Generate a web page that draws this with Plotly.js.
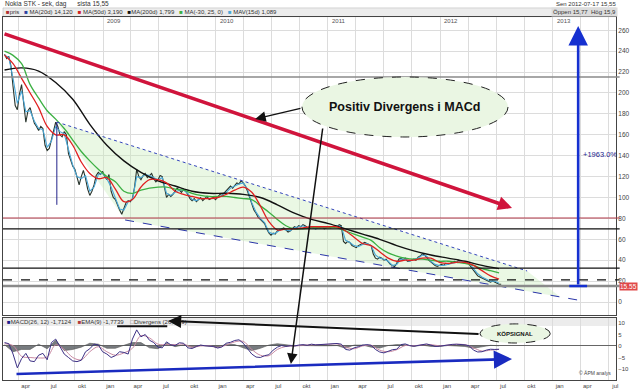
<!DOCTYPE html>
<html><head><meta charset="utf-8">
<script src="https://cdn.plot.ly/plotly-3.0.1.min.js"></script>
<style>html,body{margin:0;padding:0;background:#fff}#chart{width:640px;height:390px}</style>
</head><body><div id="chart"></div>
<script>
// ---------- DATA ----------
const seriesStart = '2008-02-15';
const stepDays = 6.93;
// weekly closing price (SEK)
const price = [
237,233,235,226,206,188,184,199,208,190,
172,183,186,178,171,168,164,168,166,150,
145,147,155,164,172,168,160,158,163,160,
142,136,130,127,118,112,120,126,118,108,
102,106,112,121,124,122,125,120,117,122,
106,100,98,92,88,84,90,95,97,96,
99,110,127,120,117,121,123,119,121,123,
118,115,117,121,120,108,100,103,101,103,
106,109,107,105,108,106,103,99,97,99,
96,98,100,97,99,101,98,99,100,98,
101,103,102,104,106,108,111,109,112,114,
113,116,114,111,106,100,93,88,85,81,
79,77,75,70,66,64,66,65,68,69,
70,71,69,67,68,70,72,71,73,72,
74,73,71,70,72,71,70,72,71,72,
70,71,72,71,72,73,72,74,73,58,
56,58,57,54,53,52,54,55,56,57,
56,55,54,46,42,41,43,42,40,41,
38,36,35,34,37,41,42,40,42,39,
39,40,41,40,43,44,46,45,43,40,
38,36,35,34,35,36,35,37,36,37,
38,39,38,40,39,38,37,38,36,33,
30,27,25,24,23,22,21,20,19,20,
19,18,17,17];
// short average (cyan), every 2 weeks
const maShort = [
236,234,214,190,202,182,183,173,166,165,
148,154,168,163,161,146,131,120,118,121,
106,110,122,123,118,110,99,89,88,96,
98,120,119,122,121,119,117,119,104,102,
105,107,107,104,98,97,99,99,99,99,
100,102,105,109,111,113,114,108,95,86,
80,76,67,65,67,70,69,68,71,72,
73,71,71,70,71,71,72,72,73,72,
59,57,54,53,55,56,54,45,42,41,
39,35,36,41,41,39,41,42,45,44,
39,36,35,35,36,37,38,39,38,37,
32,27,24,22,20,20,18];
// red average, every 4 weeks
const maRed = [
236,228,214,200,186,168,160,160,150,134,
123,118,119,108,96,98,110,117,117,114,
106,103,101,99,99,100,103,107,110,105,
92,77,69,70,70,71,72,72,72,72,
68,62,56,54,48,42,39,40,40,42,
42,38,37,38,38,35,30,25,22];
// green average, every 4 weeks
const maGreen = [
240,236,228,208,195,183,175,166,155,144,
135,127,120,115,106,104,107,109,110,110,
108,107,104,102,101,101,101,100,99,98,
92,86,79,73,70,70,71,71,71,71,
68,65,62,59,52,47,44,42,41,41,
40,39,39,38,37,35,32,30,28];
// black long average, every 8 weeks
const maBlack = [
222,224,221,210,194,170,150,135,124,116,
111,106,104,104,103,100,93,85,79,75,
70,65,60,54,49,45,42,39,35,32];
// MACD, every 2 weeks
const macd = [
1.5,1.0,-3.5,-9.5,-5.5,-3.2,-6.5,-6.8,-4,-3.2,
-6,1.5,3,0,-3.5,-5,-6.5,-6.8,-6.2,-2.5,
-1.2,0.8,0.5,-2.5,-3.5,-5,-4.2,-2.5,-2.8,-3.5,
3,7,4,5,2.5,1.5,-0.5,-0.8,1.8,0.5,
0.2,1.4,1.2,-0.8,-1.1,-0.2,0.4,0.1,0,-0.2,
-0.9,-0.4,1.2,1.6,2.4,2.7,1.2,-1,-3.5,-4.8,
-5,-4.2,-3.8,-1.8,-0.5,0.2,-0.2,0.1,0,0.4,
0.6,0.3,0.8,0.5,0.6,0.9,0.7,0.8,1.1,0.8,
-1.5,-1.8,-0.8,-0.3,0.4,0.6,0.3,-1.5,-2.6,-3,
-2.2,-1.6,-1.4,0.6,0.9,0.2,-0.1,0.3,0.8,0.9,
0.4,-0.2,-0.1,0.2,0.6,0.7,0.8,0.7,0.5,0.1,
-1.8,-2.6,-2.5,-1.8,-1.4,-1.5,-1.4];
// EMA signal, every 4 weeks
const signal = [
1.0,0.2,-4.5,-5,-5.2,-4.8,0.5,-1.5,-5,-6,
-2.5,-0.3,-2.5,-4,-3,-1,4.5,3.5,0.8,0.6,
0.6,0.8,-0.5,0,0.1,-0.6,0.4,1.8,2,-1.5,
-4,-4.2,-1.5,-0.2,0,0.4,0.5,0.6,0.7,0.9,
-0.5,-1.2,0,0.3,-1.8,-2.5,-1.6,0.2,0.1,0.5,
0.6,0.1,0.4,0.7,0.6,-0.8,-2.2,-1.8,-1.5];
// divergence histogram, every 4 weeks
const divergence = [
0.5,-2.5,-1.5,-1.5,0.8,-1.2,2.5,-2,-1.5,-0.5,
1.2,0.8,-1,-1,0.3,1.5,1.5,-0.8,-1.2,1.2,
-0.3,0.5,-0.6,0.3,-0.1,-0.5,0.8,0.6,-0.8,-2,
-1,0.4,1,0.4,0.1,0.2,0.3,0.1,0.1,0.2,
-1,0.4,0.4,-0.5,-0.9,0.2,0.6,0.5,-0.2,0.4,
-0.2,-0.2,0.2,0.1,-0.2,-1,-0.3,0.3,0.1];

const yearLabels = ['2009','2010','2011','2012','2013'];
const quarterNames = ['jan','apr','jul','okt'];
const priceTicks = [0,20,40,60,80,100,120,140,160,180,200,220,240,260];
const macdTicks = [-15,-10,-5,0,5,10];
const xRange = ['2008-02-10','2013-07-26'];
const levelValues = [215.3, 80.4, 69.9, 32.5, 21.1, 15.3];
const lastPriceLabel = '15.55';
// drawn trend lines (date, value)
const redTrendX = ['2008-02-10','2012-08-22'];  const redTrendY = [257, 90];
const upperChanX = ['2008-08-03','2012-10-10']; const upperChanY = [172.2, 29.7];
const lowerChanX = ['2009-03-13','2013-04-10']; const lowerChanY = [78.5, 1.0];
const wedgeX = ['2008-08-03','2012-10-10','2013-01-26','2009-03-13','2008-08-03'];
const wedgeY = [172.2, 29.7, 4.8, 78.5, 172.2];
const gainX = '2013-03-25'; const gainY = [15.3, 264];
const gainText = '+1963.0%';
const macdTrendX = ['2008-03-20','2012-08-22']; const macdTrendY = [-12.2, -5.65];
const noteMain = 'Positiv Divergens i MACd';
const noteBuy = 'KÖPSIGNAL';

// ---------- HELPERS ----------
const t0 = Date.parse(seriesStart + 'T00:00:00Z');
function dates(n, every) {
  const out = [];
  for (let i = 0; i < n; i++) {
    out.push(new Date(t0 + i * every * stepDays * 864e5).toISOString().slice(0, 19).replace('T', ' '));
  }
  return out;
}
const qVals = [], qText = [];
for (let y = 2008; y <= 2013; y++) for (let q = 0; q < 4; q++) {
  const m = q * 3 + 1;
  qVals.push(y + '-' + String(m).padStart(2, '0') + '-01');
  qText.push(quarterNames[q]);
}

const FONT = 'Liberation Sans, Arial, sans-serif';
const traces = [
  {x: wedgeX, y: wedgeY, type: 'scatter', mode: 'lines', fill: 'toself',
   fillcolor: 'rgba(200,236,185,0.38)', line: {width: 0}, hoverinfo: 'skip'},
  {x: dates(price.length, 1), y: price, type: 'scatter', mode: 'lines',
   line: {color: '#27332b', width: 1.1}},
  {x: dates(maShort.length, 2), y: maShort, type: 'scatter', mode: 'lines',
   line: {color: '#4aa8d8', width: 1.1}},
  {x: dates(maBlack.length, 8), y: maBlack, type: 'scatter', mode: 'lines', line: {shape: 'spline',
   color: '#111111', width: 1.4}},
  {x: dates(maGreen.length, 4), y: maGreen, type: 'scatter', mode: 'lines', line: {shape: 'spline',
   color: '#3cb043', width: 1.3}},
  {x: dates(maRed.length, 4), y: maRed, type: 'scatter', mode: 'lines', line: {shape: 'spline',
   color: '#e02020', width: 1.3}},
  {x: upperChanX, y: upperChanY, type: 'scatter', mode: 'lines',
   line: {color: '#3344bb', width: 1, dash: 'dot'}},
  {x: lowerChanX, y: lowerChanY, type: 'scatter', mode: 'lines',
   line: {color: '#2a35a8', width: 1, dash: 'dash'}},
  // MACD panel
  {x: dates(divergence.length, 4), y: divergence, xaxis: 'x2', yaxis: 'y2', type: 'scatter', mode: 'lines',
   fill: 'tozeroy', fillcolor: 'rgba(85,90,95,0.8)', line: {color: '#555', width: 0.6}},
  {x: dates(signal.length, 4), y: signal, xaxis: 'x2', yaxis: 'y2', type: 'scatter', mode: 'lines',
   line: {color: '#c98aa3', width: 1, shape: 'spline'}},
  {x: dates(macd.length, 2), y: macd, xaxis: 'x2', yaxis: 'y2', type: 'scatter', mode: 'lines',
   line: {color: '#3d3185', width: 1}}
];

const levelStyles = [
  {color: '#8a8a8a', width: 1.4, dash: 'solid'},
  {color: '#b23848', width: 1.2, dash: 'solid'},
  {color: '#111', width: 1.3, dash: 'solid'},
  {color: '#111', width: 1.3, dash: 'solid'},
  {color: '#111', width: 1.2, dash: 'dash'},
  {color: '#8a8a8a', width: 2.6, dash: 'solid'}
];
const shapes = [
  {type: 'rect', xref: 'paper', yref: 'paper', x0: 0, x1: 1, y0: 1.001, y1: 1.025,
   fillcolor: '#ececec', line: {color: '#bbb', width: 0.6}, layer: 'below'},
  {type: 'rect', xref: 'paper', yref: 'y2 domain', x0: 0, x1: 1, y0: 0.87, y1: 1,
   fillcolor: '#ececec', line: {width: 0}, layer: 'below'}
];
levelValues.forEach((v, i) => shapes.push({type: 'line', xref: 'paper', yref: 'y', x0: 0, x1: 1.006, y0: v, y1: v,
  line: levelStyles[i], layer: 'above'}));
shapes.push(
  {type: 'line', xref: 'x', yref: 'y', x0: upperChanX[0], x1: upperChanX[0], y0: 93, y1: upperChanY[0],
   line: {color: '#22228a', width: 1}},
  {type: 'line', xref: 'x', yref: 'y', x0: '2013-02-24', x1: '2013-04-23', y0: gainY[0], y1: gainY[0],
   line: {color: '#1530d0', width: 2.5}},
  {type: 'circle', xref: 'x', yref: 'y', x0: '2010-10-09', x1: '2012-08-09', y0: 157.9, y1: 215.3,
   fillcolor: '#eaf6e3', line: {color: '#222', width: 1, dash: 'dash'}, layer: 'above'},
  {type: 'circle', xref: 'x2', yref: 'y2', x0: '2012-05-10', x1: '2012-12-24', y0: 1.3, y1: 9.6,
   fillcolor: '#eaf6e3', line: {color: '#222', width: 1, dash: 'dash'}, layer: 'above'},
  {type: 'line', xref: 'x2', yref: 'y2', x0: '2009-02-15', x1: '2009-07-28', y0: 8.6, y1: 8.6,
   line: {color: '#111', width: 2}}
);

const tiny = {family: FONT, size: 6.5, color: '#333'};
const annotations = [
  {xref: 'paper', yref: 'paper', x: 0, y: 1.036, xanchor: 'left', yanchor: 'middle', showarrow: false,
   text: 'Nokia STK - sek, dag      sista 15,55', font: tiny},
  {xref: 'paper', yref: 'paper', x: 0.002, y: 1.013, xanchor: 'left', yanchor: 'middle', showarrow: false,
   font: {family: FONT, size: 6, color: '#333'},
   text: "<span style='color:#b03030'>■</span>pris   <span style='color:#2a3fa0'>■</span> MA(20d) 14,120   <span style='color:#d02020'>■</span> MA(50d) 3,190   <span style='color:#111'>■</span>MA(200d) 1,799   <span style='color:#3cb043'>■</span> MA(-30, 25, 0)   <span style='color:#4aa8d8'>■</span> MAV(15d) 1,089"},
  {xref: 'paper', yref: 'paper', x: 1.003, y: 1.036, xanchor: 'right', yanchor: 'middle', showarrow: false,
   text: 'Sen 2012-07-17 15,55', font: {family: FONT, size: 6, color: '#333'}},
  {xref: 'paper', yref: 'paper', x: 1.003, y: 1.013, xanchor: 'right', yanchor: 'middle', showarrow: false,
   text: 'Öppen 15,77  Hög 15,9', font: {family: FONT, size: 6, color: '#333'}, bgcolor: '#dcdcdc'},
  {xref: 'paper', yref: 'y2 domain', x: 0.004, y: 0.94, xanchor: 'left', yanchor: 'middle', showarrow: false,
   font: {family: FONT, size: 6, color: '#333'},
   text: "<span style='color:#1c1c8c'>■</span>MACD(26, 12) -1,7124    <span style='color:#b03a3a'>■</span>EMA(9) -1,7739    <span style='color:#777'>□</span>Divergens (26,12,9)"},
  {xref: 'x', yref: 'y', x: '2011-09-08', y: 186.6, showarrow: false, text: '<b>' + noteMain + '</b>',
   font: {family: FONT, size: 12.5, color: '#111'}},
  {xref: 'x2', yref: 'y2', x: '2012-09-01', y: 5.4, showarrow: false, text: '<b>' + noteBuy + '</b>',
   font: {family: FONT, size: 6, color: '#111'}},
  {xref: 'x', yref: 'y', x: '2013-04-04', y: 141.6, xanchor: 'left', showarrow: false, text: gainText,
   font: {family: FONT, size: 7.5, color: '#23238e'}},
  {xref: 'paper', yref: 'y', x: 1, xshift: 3, y: levelValues[5], xanchor: 'left', showarrow: false,
   text: lastPriceLabel, bgcolor: '#e04848', borderpad: 0, font: {family: FONT, size: 6.5, color: '#fff'}},
  {xref: 'paper', yref: 'paper', x: 0.995, y: 0.005, xanchor: 'right', yanchor: 'bottom', showarrow: false,
   text: '© ÄPM analys', font: {family: FONT, size: 5, color: '#444'}},
  // arrows
  {xref: 'x', yref: 'y', axref: 'x', ayref: 'y', x: redTrendX[1], y: redTrendY[1], ax: redTrendX[0], ay: redTrendY[0],
   showarrow: true, arrowhead: 2, arrowsize: 0.8, arrowwidth: 3.5, arrowcolor: '#d0143c', text: '', standoff: 0},
  {xref: 'x', yref: 'y', axref: 'x', ayref: 'y', x: '2010-05-10', y: 175.1, ax: '2010-10-09', ay: 185.6,
   showarrow: true, arrowhead: 2, arrowsize: 1.4, arrowwidth: 1.5, arrowcolor: '#111', text: '', standoff: 0},
  {xref: 'x2', yref: 'y2', axref: 'x2', ayref: 'y2', x: '2010-09-03', y: -7.8, ax: '2010-12-16', ay: 95.2,
   showarrow: true, arrowhead: 2, arrowsize: 1.4, arrowwidth: 1.5, arrowcolor: '#111', text: '', standoff: 0},
  {xref: 'x2', yref: 'y2', axref: 'x2', ayref: 'y2', x: '2009-07-31', y: 10.9, ax: '2012-05-10', ay: 5.2,
   showarrow: true, arrowhead: 2, arrowsize: 1.3, arrowwidth: 2, arrowcolor: '#111', text: '', standoff: 0},
  {xref: 'x2', yref: 'y2', axref: 'x2', ayref: 'y2', x: macdTrendX[1], y: macdTrendY[1], ax: macdTrendX[0], ay: macdTrendY[0],
   showarrow: true, arrowhead: 2, arrowsize: 1.4, arrowwidth: 2.6, arrowcolor: '#1a2bc0', text: '', standoff: 0},
  {xref: 'x', yref: 'y', axref: 'x', ayref: 'y', x: gainX, y: gainY[1], ax: gainX, ay: gainY[0],
   showarrow: true, arrowhead: 2, arrowsize: 1.5, arrowwidth: 2.6, arrowcolor: '#1530d0', text: '', standoff: 0}
];
yearLabels.forEach(y => annotations.push({xref: 'x', yref: 'paper', x: y + '-01-01', xshift: 2, y: 0.99,
  xanchor: 'left', yanchor: 'middle', showarrow: false, text: y, font: {family: FONT, size: 6, color: '#555'}}));

const gridC = '#dcdcdc';
const layout = {
  width: 640, height: 390, paper_bgcolor: '#fff', plot_bgcolor: '#fff',
  margin: {l: 3, r: 24, t: 17, b: 10}, showlegend: false, hovermode: false,
  font: {family: FONT, size: 6.5, color: '#333'},
  xaxis: {type: 'date', range: xRange, domain: [0, 1], anchor: 'y', matches: 'x2',
    showticklabels: false, ticks: '', tickvals: qVals, showgrid: true, gridcolor: gridC,
    showline: true, mirror: true, linecolor: '#444', linewidth: 1, zeroline: false},
  yaxis: {range: [-12.44, 272.7], domain: [0.179, 1], side: 'right', tickvals: priceTicks,
    showgrid: true, gridcolor: gridC, zeroline: false, ticks: '',
    tickfont: {family: FONT, size: 6.5, color: '#444'},
    showline: true, mirror: true, linecolor: '#444', linewidth: 1},
  xaxis2: {type: 'date', range: xRange, domain: [0, 1], anchor: 'y2', tickvals: qVals, ticktext: qText,
    ticks: '', showgrid: true, gridcolor: gridC, ticklabelshift: 7,
    tickfont: {family: FONT, size: 6, color: '#444'},
    showline: true, mirror: true, linecolor: '#444', linewidth: 1, zeroline: false},
  yaxis2: {range: [-14.78, 12.17], domain: [0, 0.1708], side: 'right', tickvals: macdTicks,
    showgrid: false, zeroline: true, zerolinecolor: '#666', zerolinewidth: 1, ticks: '',
    tickfont: {family: FONT, size: 6, color: '#444'},
    showline: true, mirror: true, linecolor: '#444', linewidth: 1},
  shapes: shapes, annotations: annotations
};
Plotly.newPlot('chart', traces, layout, {staticPlot: true, displayModeBar: false});
</script></body></html>
